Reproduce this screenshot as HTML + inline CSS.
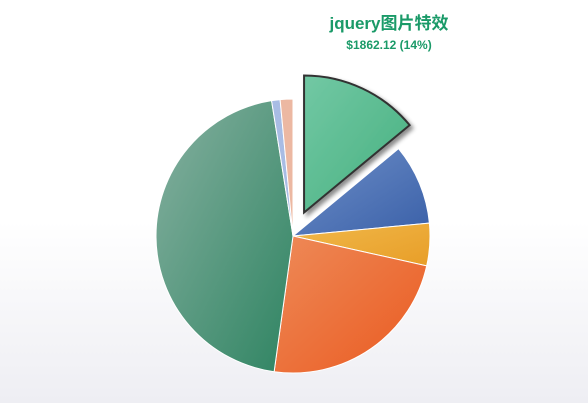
<!DOCTYPE html>
<html><head><meta charset="utf-8"><style>
html,body{margin:0;padding:0}
body{width:588px;height:403px;overflow:hidden;background:linear-gradient(#fff 0%,#fff 55%,#eeeef3 100%);font-family:"Liberation Sans","Noto Sans CJK SC",sans-serif}
</style></head><body>
<svg width="588" height="403">
<defs>
<filter id="sh" x="-20%" y="-20%" width="150%" height="150%"><feDropShadow dx="3" dy="3" stdDeviation="2" flood-color="#000" flood-opacity="0.45"/></filter>
</defs>
<g id="slices"></g>
<text x="389" y="29" text-anchor="middle" font-size="17" font-weight="bold" fill="#1a9a68">jquery图片特效</text>
<text x="389" y="49" text-anchor="middle" font-size="12" font-weight="bold" fill="#1a9a68">$1862.12 (14%)</text>
</svg>
<script>
const labels=["jquery图片特效","blue","yellow","orange","green","lightblue","salmon"];
const values=[14,9.5,5,23.7,45.3,1,1.5];
const colors=[["#72c8a4","#46b07f"],["#6e8fc8","#3a60a8"],["#f0b84a","#e89e28"],["#ee8a58","#ea5a20"],["#86b0a0","#2f8462"],["#a8bce4","#a8bce4"],["#ecb8a2","#ecb8a2"]];
const exploded=0;
const cx=293,cy=236,R=137,off=26;
const g=document.getElementById('slices');
const ns='http://www.w3.org/2000/svg';
const total=values.reduce((a,b)=>a+b,0);
let a0=0;
const defs=document.querySelector('defs');
values.forEach((v,i)=>{
  const a1=a0+v/total*360;
  const mid=(a0+a1)/2*Math.PI/180;
  let dx=0,dy=0;
  if(i===exploded){dx=Math.sin(mid)*off;dy=-Math.cos(mid)*off;}
  const p=a=>[cx+dx+R*Math.sin(a*Math.PI/180),cy+dy-R*Math.cos(a*Math.PI/180)];
  const s=p(a0),e=p(a1);
  const gr=document.createElementNS(ns,'linearGradient');
  gr.id='g'+i;gr.setAttribute('x1','0');gr.setAttribute('y1','0');gr.setAttribute('x2','1');gr.setAttribute('y2','1');
  gr.innerHTML='<stop offset="0" stop-color="'+colors[i][0]+'"/><stop offset="1" stop-color="'+colors[i][1]+'"/>';
  defs.appendChild(gr);
  const path=document.createElementNS(ns,'path');
  path.setAttribute('d','M'+(cx+dx)+','+(cy+dy)+'L'+s[0]+','+s[1]+'A'+R+','+R+' 0 '+((a1-a0)>180?1:0)+' 1 '+e[0]+','+e[1]+'Z');
  path.setAttribute('fill','url(#g'+i+')');
  if(i===exploded){path.setAttribute('stroke','#333');path.setAttribute('stroke-width','2');path.setAttribute('filter','url(#sh)');}
  else{path.setAttribute('stroke','#fff');path.setAttribute('stroke-width','1');}
  
  
  g.appendChild(path);
  a0=a1;
});
</script>
</body></html>
